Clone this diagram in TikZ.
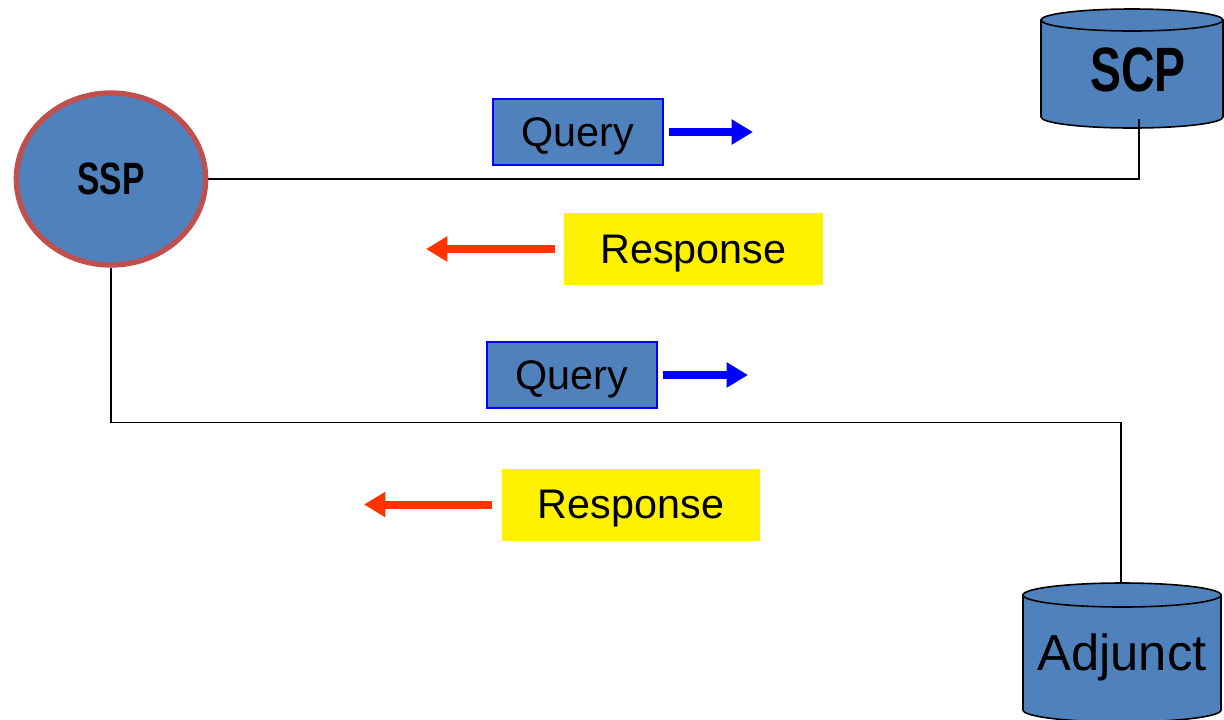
\documentclass[tikz,border=0pt]{standalone}
\usepackage{fontspec}
\setmainfont{Liberation Sans}
\newfontfamily\condfont[FakeStretch=0.74]{Liberation Sans}
\usetikzlibrary{shapes.geometric,arrows.meta}

\definecolor{dbblue}{HTML}{4F81BD}
\definecolor{ringred}{HTML}{C0504D}
\definecolor{arrowred}{HTML}{FF3300}

\begin{document}
\begin{tikzpicture}[x=0.75pt,y=0.75pt,yscale=-1,xscale=1,
    msgtext/.style={font=\fontsize{31}{36}\selectfont, text depth=0pt},
    querybox/.style={draw=blue, line width=0.9pt, fill=dbblue, inner sep=0pt, minimum width=127.5pt, minimum height=49.5pt, msgtext},
    respbox/.style={fill=yellow, inner sep=0pt, minimum width=194pt, minimum height=54pt, msgtext},
    link/.style={line width=1pt},
    qarrow/.style={draw=blue, line width=6pt, -{Triangle[length=16pt,width=18pt]}},
    rarrow/.style={draw=arrowred, line width=6pt, -{Triangle[length=16pt,width=18pt]}},
    dbbody/.style={fill=dbblue, draw=black, line width=1.2pt}]
    \clip (0,0) rectangle (1224,719);

    %SSP switching point
    \node [ellipse, draw=ringred, line width=4pt, fill=dbblue, inner sep=0pt, minimum width=142pt, minimum height=129pt] (ssp) at (111,179) {};
    \node [font=\condfont\bfseries\fontsize{34}{40}\selectfont] (ssplabel) at (111,179) {SSP};

    %SCP database
    \filldraw [dbbody] (1041,20) -- (1041,117) arc [start angle=180, end angle=0, x radius=91, y radius=11] -- (1223,20) -- cycle;
    \filldraw [dbbody] (1132,20) ellipse [x radius=91, y radius=11];
    \node [font=\condfont\bfseries\fontsize{47}{54}\selectfont] (scp) at (1138,70) {SCP};
    \coordinate (scpfoot) at (1139,119);

    %Adjunct database
    \filldraw [dbbody] (1023,595) -- (1023,710) arc [start angle=180, end angle=0, x radius=99, y radius=12] -- (1221,595) -- cycle;
    \filldraw [dbbody] (1122,595) ellipse [x radius=99, y radius=12];
    \node [anchor=base, font=\fontsize{38}{44}\selectfont] (adj) at (1122,670) {Adjunct};
    \coordinate (adjhead) at (1121,583);

    %links
    \draw [link] (ssp) -- (ssp -| scpfoot) -- (scpfoot);
    \draw [link] (ssp.south) -- ++(0,155) -| (adjhead);

    %messages to SCP
    \node [querybox] (q1) at (578,132) {Query};
    \coordinate (q1end) at (753,132);
    \draw [qarrow, shorten <=3.75pt] (q1) -- (q1end);
    \node [respbox] (r1) at (693.5,249) {Response};
    \coordinate (r1end) at (426,249);
    \draw [rarrow, shorten <=6.75pt] (r1) -- (r1end);

    %messages to Adjunct
    \node [querybox] (q2) at (572,375) {Query};
    \coordinate (q2end) at (748,375);
    \draw [qarrow, shorten <=3.75pt] (q2) -- (q2end);
    \node [respbox] (r2) at (631,504.5) {Response};
    \coordinate (r2end) at (364,504.5);
    \draw [rarrow, shorten <=6.75pt] (r2) -- (r2end);

\end{tikzpicture}
\end{document}
